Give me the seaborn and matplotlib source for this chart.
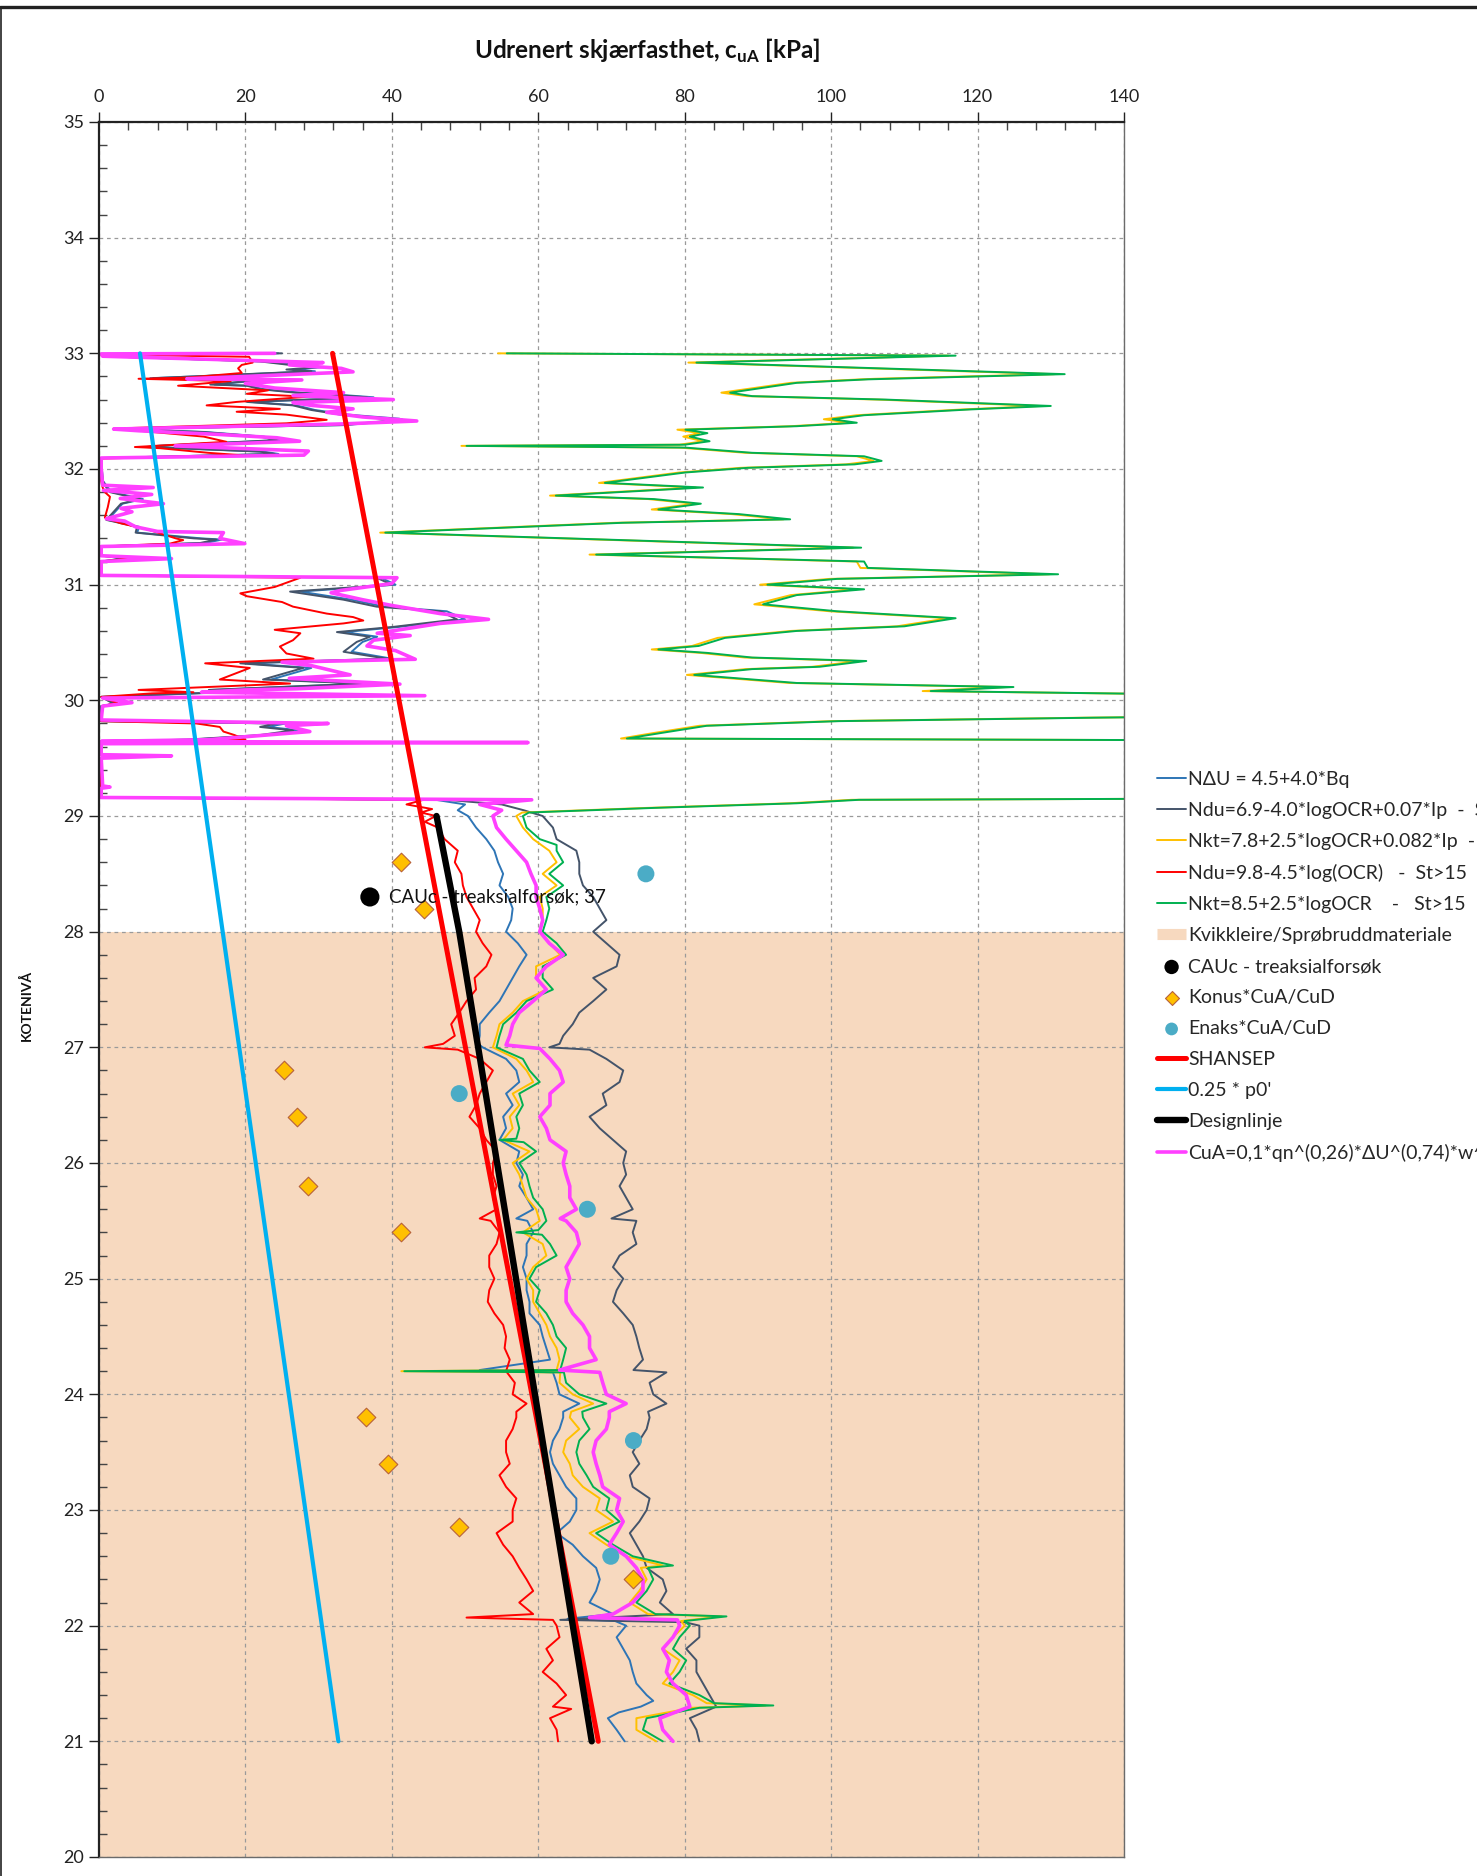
import matplotlib
matplotlib.use("Agg")
import matplotlib.pyplot as plt
from matplotlib.lines import Line2D
from matplotlib.ticker import MultipleLocator
import seaborn as sns
import pandas as pd

# ---------------------------------------------------------------------------
# CPT-derived undrained shear strength profiles, (kote [m], cuA [kPa])
# ---------------------------------------------------------------------------
ndu_bq = [  # NΔU = 4.5+4.0*Bq
    (33.0, 24.5), (32.995, 0.3), (32.975, 0.5), (32.93, 22.5), (32.9, 27.0), (32.88, 30.5),
    (32.86, 26.5), (32.845, 29.5), (32.82, 20.5), (32.785, 7.0), (32.77, 22.5), (32.73, 15.8),
    (32.72, 20.5), (32.69, 22.5), (32.66, 27.5), (32.65, 31.0), (32.62, 37.5), (32.58, 20.8),
    (32.55, 27.0), (32.51, 29.5), (32.47, 34.0), (32.435, 41.0), (32.425, 41.5), (32.38, 33.8),
    (32.345, 2.0), (32.34, 5.6), (32.32, 14.5), (32.28, 22.5), (32.25, 24.8), (32.2, 8.2),
    (32.19, 6.8), (32.15, 22.5), (32.13, 24.5), (32.095, 0.3), (31.9, 0.5), (31.84, 1.2),
    (31.8, 1.8), (31.74, 6.0), (31.7, 3.2), (31.63, 2.2), (31.56, 1.2), (31.5, 5.5), (31.45, 5.2),
    (31.4, 14.0), (31.39, 16.8), (31.36, 14.5), (31.33, 0.3), (31.25, 0.3), (31.23, 3.8),
    (31.2, 0.3), (31.08, 0.3), (31.06, 38.5), (31.0, 40.5), (30.94, 27.5), (30.87, 34.5),
    (30.81, 39.0), (30.77, 47.5), (30.7, 50.0), (30.635, 41.0), (30.59, 33.5), (30.55, 38.0),
    (30.505, 36.0), (30.42, 34.5), (30.36, 40.0), (30.32, 20.0), (30.28, 29.0), (30.18, 23.5),
    (30.145, 36.5), (30.09, 15.5), (30.07, 17.5), (30.03, 0.3), (29.97, 2.2), (29.95, 0.3),
    (29.82, 0.3), (29.8, 25.5), (29.77, 23.0), (29.74, 27.5), (29.7, 23.0), (29.66, 12.5),
    (29.645, 0.3), (29.635, 41.0), (29.625, 0.3), (29.53, 0.3), (29.52, 5.5), (29.5, 0.3),
    (29.16, 0.3), (29.14, 46.0), (29.1, 50.0), (29.05, 49.0),
    (29.0, 50.4), (28.9, 51.5), (28.8, 52.9), (28.7, 54.0), (28.6, 54.5), (28.5, 55.2),
    (28.4, 54.7), (28.3, 55.9), (28.2, 56.5), (28.1, 56.3), (28.0, 55.6), (27.9, 57.2),
    (27.8, 58.4), (27.7, 57.4), (27.6, 56.5), (27.5, 55.6), (27.4, 54.7), (27.3, 53.3),
    (27.2, 52.0), (27.1, 52.0), (27.03, 51.8), (27.0, 52.4), (26.9, 55.6), (26.8, 57.0),
    (26.7, 57.4), (26.6, 55.6), (26.5, 56.5), (26.4, 55.2), (26.3, 55.6), (26.2, 54.7),
    (26.1, 57.4), (26.0, 57.0), (25.9, 57.9), (25.8, 57.4), (25.7, 58.4), (25.6, 59.3),
    (25.52, 57.0), (25.5, 58.5), (25.4, 59.3), (25.3, 58.4), (25.2, 58.4), (25.1, 57.9),
    (25.0, 58.4), (24.9, 58.4), (24.8, 58.8), (24.7, 58.8), (24.6, 60.2), (24.5, 60.6),
    (24.4, 61.1), (24.3, 61.6), (24.21, 52.0), (24.19, 62.0), (24.1, 62.5), (24.0, 62.9),
    (23.92, 65.6), (23.85, 63.4), (23.8, 63.4), (23.7, 62.9), (23.6, 62.0), (23.5, 61.6),
    (23.4, 62.0), (23.3, 62.9), (23.2, 63.8), (23.1, 65.2), (23.0, 65.2), (22.9, 64.3),
    (22.8, 62.5), (22.7, 64.7), (22.6, 66.1), (22.5, 67.9), (22.4, 68.4), (22.3, 67.9),
    (22.2, 67.0), (22.1, 70.2), (22.06, 64.0), (22.04, 70.5), (22.0, 72.0), (21.9, 70.7),
    (21.8, 71.6), (21.7, 72.5), (21.6, 72.9), (21.5, 73.4), (21.4, 74.8), (21.35, 75.7),
    (21.3, 74.0), (21.25, 71.0), (21.2, 69.5), (21.1, 70.7), (21.0, 71.8),
]

ndu_ocr_ip = [  # Ndu=6.9-4.0*logOCR+0.07*Ip - St<15
    (33.0, 25.0), (32.995, 0.3), (32.975, 0.5), (32.93, 22.0), (32.9, 26.0), (32.88, 29.7),
    (32.86, 25.6), (32.845, 29.0), (32.82, 20.0), (32.785, 7.4), (32.77, 22.0), (32.73, 15.2),
    (32.72, 20.2), (32.69, 22.0), (32.66, 26.8), (32.65, 30.2), (32.62, 36.6), (32.58, 20.2),
    (32.55, 26.5), (32.51, 29.0), (32.47, 33.0), (32.435, 40.0), (32.425, 40.9), (32.38, 33.4),
    (32.345, 2.0), (32.34, 5.6), (32.32, 14.0), (32.28, 22.0), (32.25, 24.3), (32.2, 8.0),
    (32.19, 6.5), (32.15, 22.0), (32.13, 24.0), (32.095, 0.3), (31.9, 0.5), (31.84, 1.0),
    (31.8, 1.5), (31.74, 5.6), (31.7, 3.0), (31.63, 2.0), (31.56, 1.0), (31.5, 5.2), (31.45, 5.0),
    (31.4, 13.0), (31.39, 16.0), (31.36, 13.8), (31.33, 0.3), (31.25, 0.3), (31.23, 3.5),
    (31.2, 0.3), (31.08, 0.3), (31.06, 37.9), (31.0, 40.0), (30.94, 26.1), (30.87, 33.4),
    (30.81, 37.9), (30.77, 46.6), (30.7, 48.9), (30.635, 40.2), (30.59, 32.5), (30.55, 37.0),
    (30.505, 35.2), (30.42, 33.4), (30.36, 39.3), (30.32, 19.3), (30.28, 27.9), (30.18, 22.4),
    (30.145, 36.1), (30.09, 15.0), (30.07, 17.0), (30.03, 0.3), (29.97, 2.0), (29.95, 0.3),
    (29.82, 0.3), (29.8, 24.3), (29.77, 22.0), (29.74, 26.5), (29.7, 22.0), (29.66, 12.0),
    (29.645, 0.3), (29.635, 40.2), (29.625, 0.3), (29.53, 0.3), (29.52, 5.0), (29.5, 0.3),
    (29.16, 0.3), (29.14, 47.5), (29.1, 55.0), (29.05, 58.0),
    (29.0, 60.6), (28.9, 62.0), (28.8, 62.5), (28.7, 65.2), (28.6, 65.6), (28.5, 65.6),
    (28.4, 66.1), (28.3, 67.5), (28.2, 68.4), (28.1, 69.3), (28.0, 67.5), (27.9, 69.3),
    (27.8, 71.1), (27.7, 70.7), (27.6, 67.5), (27.5, 69.3), (27.4, 67.5), (27.3, 65.6),
    (27.2, 64.7), (27.1, 63.4), (27.03, 62.9), (27.0, 61.5), (26.98, 67.0), (26.9, 69.3),
    (26.8, 71.6), (26.7, 71.1), (26.6, 68.8), (26.5, 69.3), (26.4, 67.0), (26.3, 68.4),
    (26.2, 70.2), (26.1, 72.0), (26.0, 71.6), (25.9, 72.0), (25.8, 71.1), (25.7, 72.0),
    (25.6, 72.9), (25.52, 70.0), (25.5, 73.4), (25.4, 72.9), (25.3, 73.4), (25.2, 71.1),
    (25.1, 70.2), (25.0, 71.6), (24.9, 70.7), (24.8, 70.2), (24.7, 71.6), (24.6, 72.9),
    (24.5, 73.4), (24.4, 73.8), (24.3, 74.3), (24.21, 73.0), (24.19, 77.5), (24.1, 75.2),
    (24.0, 75.7), (23.92, 77.5), (23.85, 75.0), (23.8, 75.2), (23.7, 74.8), (23.6, 73.8),
    (23.5, 72.9), (23.4, 73.8), (23.3, 72.5), (23.2, 72.9), (23.1, 75.2), (23.0, 74.8),
    (22.9, 73.8), (22.8, 72.5), (22.7, 73.4), (22.6, 74.3), (22.5, 74.8), (22.4, 77.0),
    (22.3, 77.5), (22.2, 76.6), (22.1, 78.4), (22.05, 63.0), (22.03, 80.0), (22.0, 82.0),
    (21.9, 82.0), (21.8, 80.2), (21.7, 81.6), (21.6, 81.6), (21.5, 82.5), (21.4, 83.4),
    (21.3, 84.3), (21.2, 80.7), (21.1, 81.6), (21.0, 82.0),
]

nkt_ocr_ip = [  # Nkt=7.8+2.5*logOCR+0.082*Ip - St<15
    (33.0, 54.5), (32.98, 116.0), (32.92, 80.5), (32.82, 130.5), (32.78, 106.0), (32.775, 104.0),
    (32.745, 94.5), (32.66, 85.0), (32.63, 88.5), (32.6, 106.5), (32.545, 128.5), (32.515, 118.0),
    (32.465, 103.5), (32.43, 99.0), (32.4, 102.5), (32.37, 94.5), (32.34, 79.0), (32.31, 82.0),
    (32.28, 79.8), (32.24, 82.5), (32.21, 79.3), (32.2, 49.5), (32.185, 79.3), (32.14, 88.3),
    (32.11, 103.5), (32.07, 105.8), (32.04, 102.0), (32.01, 87.6), (31.97, 79.3), (31.88, 68.3),
    (31.84, 81.5), (31.77, 61.6), (31.74, 75.0), (31.7, 81.3), (31.65, 75.5), (31.61, 86.4),
    (31.565, 93.5), (31.535, 70.5), (31.45, 38.4), (31.32, 103.0), (31.26, 67.0), (31.2, 103.5),
    (31.145, 104.0), (31.09, 129.8), (31.05, 99.8), (31.0, 90.3), (30.96, 103.5), (30.91, 94.5),
    (30.83, 89.5), (30.77, 99.8), (30.71, 116.0), (30.64, 109.0), (30.6, 94.5), (30.54, 84.5),
    (30.47, 81.0), (30.44, 75.5), (30.41, 82.2), (30.37, 88.2), (30.34, 103.8), (30.29, 97.4),
    (30.27, 88.3), (30.22, 80.3), (30.15, 94.3), (30.115, 123.8), (30.08, 112.5), (30.05, 150.0),
    (29.95, 170.0), (29.86, 150.0), (29.85, 134.5), (29.82, 100.0), (29.78, 82.0), (29.72, 76.0),
    (29.67, 71.3), (29.655, 150.0), (29.4, 170.0), (29.15, 150.0), (29.14, 102.8), (29.11, 94.3),
    (29.07, 74.8), (29.03, 57.8),
    (29.0, 57.0), (28.9, 57.9), (28.8, 59.3), (28.7, 61.5), (28.6, 62.5), (28.5, 60.6),
    (28.4, 62.5), (28.3, 60.2), (28.2, 60.6), (28.1, 60.6), (28.0, 60.2), (27.9, 61.5),
    (27.8, 63.0), (27.7, 59.7), (27.6, 59.7), (27.5, 61.1), (27.4, 57.9), (27.3, 56.5),
    (27.2, 54.7), (27.1, 54.3), (27.0, 53.8), (26.9, 57.0), (26.8, 58.4), (26.7, 59.3),
    (26.6, 56.5), (26.5, 57.4), (26.4, 56.1), (26.3, 56.5), (26.2, 55.2), (26.1, 58.8),
    (26.0, 56.5), (25.9, 57.4), (25.8, 57.9), (25.7, 58.4), (25.6, 59.7), (25.5, 60.2),
    (25.4, 57.9), (25.3, 60.6), (25.2, 61.1), (25.1, 59.3), (25.0, 58.4), (24.9, 59.3),
    (24.8, 59.3), (24.7, 60.2), (24.6, 61.1), (24.5, 61.6), (24.4, 62.5), (24.3, 62.9),
    (24.21, 62.5), (24.2, 41.3), (24.19, 63.0), (24.1, 62.9), (24.0, 64.7), (23.92, 67.5),
    (23.85, 64.5), (23.8, 64.3), (23.7, 65.6), (23.6, 63.8), (23.5, 63.4), (23.4, 64.3),
    (23.3, 64.7), (23.2, 66.1), (23.1, 68.4), (23.0, 67.9), (22.9, 70.2), (22.8, 67.0),
    (22.7, 69.3), (22.6, 72.0), (22.52, 77.0), (22.5, 74.0), (22.4, 74.8), (22.3, 73.8),
    (22.2, 72.5), (22.1, 75.0), (22.08, 85.0), (22.04, 79.5), (22.0, 80.0), (21.9, 78.4),
    (21.8, 77.0), (21.7, 79.3), (21.6, 78.4), (21.5, 77.0), (21.4, 81.1), (21.33, 83.0),
    (21.31, 91.0), (21.29, 81.0), (21.2, 73.4), (21.1, 73.4), (21.0, 76.1),
]

ndu_ocr = [  # Ndu=9.8-4.5*log(OCR) - St>15
    (33.0, 20.0), (32.99, 0.3), (32.97, 20.5), (32.92, 21.0), (32.9, 19.5), (32.87, 19.0),
    (32.83, 19.5), (32.79, 12.0), (32.78, 5.4), (32.76, 18.0), (32.72, 10.8), (32.68, 23.1),
    (32.65, 20.2), (32.625, 28.6), (32.58, 18.8), (32.55, 14.7), (32.52, 24.7), (32.495, 18.8),
    (32.47, 25.6), (32.425, 31.1), (32.395, 25.6), (32.35, 2.0), (32.33, 5.6), (32.28, 14.3),
    (32.235, 17.4), (32.19, 4.9), (32.18, 8.3), (32.14, 14.9), (32.12, 19.3), (32.09, 0.3),
    (31.9, 0.3), (31.84, 0.5), (31.8, 0.8), (31.76, 1.5), (31.67, 1.2), (31.58, 0.8),
    (31.53, 3.0), (31.48, 6.5), (31.4, 10.5), (31.385, 11.5), (31.355, 9.7), (31.33, 0.3),
    (31.25, 0.3), (31.23, 4.7), (31.2, 0.3), (31.08, 0.3), (31.06, 27.5), (30.98, 24.0),
    (30.925, 19.3), (30.9, 20.2), (30.85, 25.0), (30.81, 26.5), (30.75, 31.1), (30.72, 34.7),
    (30.69, 36.1), (30.665, 33.4), (30.61, 24.0), (30.58, 27.5), (30.52, 26.5), (30.465, 24.7),
    (30.405, 25.6), (30.36, 29.3), (30.32, 14.5), (30.28, 20.6), (30.18, 16.5), (30.145, 26.1),
    (30.09, 5.4), (30.07, 12.9), (30.06, 7.2), (30.03, 0.3), (29.98, 2.5), (29.95, 0.5),
    (29.82, 0.3), (29.8, 13.3), (29.77, 16.5), (29.73, 17.0), (29.7, 18.5), (29.66, 20.0),
    (29.645, 0.3), (29.635, 31.1), (29.625, 0.3), (29.53, 0.3), (29.52, 1.0), (29.5, 0.3),
    (29.16, 0.3), (29.14, 44.3), (29.1, 42.0), (29.06, 45.5), (29.03, 44.0),
    (29.0, 46.0), (28.95, 44.5), (28.9, 46.3), (28.8, 47.2), (28.7, 49.0), (28.6, 48.6),
    (28.5, 49.5), (28.4, 49.7), (28.3, 50.2), (28.2, 51.1), (28.1, 52.0), (28.0, 51.5),
    (27.9, 52.4), (27.8, 53.6), (27.7, 52.9), (27.6, 51.3), (27.5, 51.5), (27.4, 50.2),
    (27.3, 49.2), (27.2, 48.1), (27.1, 48.6), (27.03, 47.0), (27.0, 44.5), (26.98, 49.0),
    (26.9, 52.0), (26.8, 53.8), (26.7, 52.9), (26.6, 52.0), (26.5, 51.5), (26.4, 50.6),
    (26.3, 52.0), (26.2, 52.9), (26.1, 54.3), (26.0, 53.8), (25.9, 53.8), (25.8, 54.3),
    (25.7, 53.8), (25.6, 54.3), (25.52, 52.0), (25.5, 53.5), (25.4, 54.7), (25.3, 54.3),
    (25.2, 53.3), (25.1, 53.3), (25.0, 54.0), (24.9, 53.3), (24.8, 53.1), (24.7, 54.0),
    (24.6, 55.2), (24.5, 55.6), (24.4, 55.4), (24.3, 56.1), (24.2, 55.6), (24.1, 56.8),
    (24.0, 56.5), (23.92, 58.4), (23.85, 57.0), (23.8, 57.0), (23.7, 56.5), (23.6, 55.6),
    (23.5, 55.6), (23.4, 56.1), (23.3, 54.7), (23.2, 55.6), (23.1, 57.0), (23.0, 56.5),
    (22.9, 56.5), (22.8, 54.3), (22.7, 55.2), (22.6, 56.5), (22.5, 57.4), (22.4, 58.4),
    (22.3, 59.3), (22.2, 57.4), (22.1, 59.3), (22.07, 50.2), (22.05, 62.0), (22.0, 62.5),
    (21.9, 62.9), (21.8, 61.1), (21.7, 62.0), (21.6, 60.6), (21.5, 62.5), (21.4, 63.8),
    (21.3, 62.0), (21.28, 64.5), (21.2, 61.6), (21.1, 62.5), (21.0, 62.7),
]

nkt_ocr = [  # Nkt=8.5+2.5*logOCR - St>15
    (33.0, 55.7), (32.98, 117.0), (32.92, 81.6), (32.82, 131.9), (32.78, 107.5), (32.775, 105.0),
    (32.745, 95.3), (32.66, 86.2), (32.63, 89.2), (32.6, 107.5), (32.545, 130.0), (32.515, 119.0),
    (32.465, 104.5), (32.43, 100.2), (32.4, 103.5), (32.37, 95.3), (32.34, 80.1), (32.31, 83.1),
    (32.28, 80.7), (32.24, 83.4), (32.21, 80.0), (32.2, 50.2), (32.185, 80.1), (32.14, 89.2),
    (32.11, 104.5), (32.07, 106.9), (32.04, 103.2), (32.01, 88.6), (31.97, 80.1), (31.88, 69.1),
    (31.84, 82.5), (31.77, 62.4), (31.74, 75.8), (31.7, 82.2), (31.65, 76.4), (31.61, 87.4),
    (31.565, 94.4), (31.535, 71.5), (31.45, 39.1), (31.32, 104.1), (31.26, 67.9), (31.2, 104.5),
    (31.145, 105.0), (31.09, 131.0), (31.05, 100.8), (31.0, 91.3), (30.96, 104.5), (30.91, 95.3),
    (30.83, 90.7), (30.77, 100.8), (30.71, 117.0), (30.64, 110.0), (30.6, 95.3), (30.54, 85.5),
    (30.47, 81.9), (30.44, 76.4), (30.41, 83.1), (30.37, 89.2), (30.34, 104.8), (30.29, 98.4),
    (30.27, 89.2), (30.22, 81.3), (30.15, 95.3), (30.115, 124.9), (30.08, 113.6), (30.05, 150.0),
    (29.95, 170.0), (29.86, 150.0), (29.85, 136.0), (29.82, 101.0), (29.78, 83.0), (29.72, 77.0),
    (29.67, 72.1), (29.655, 150.0), (29.4, 170.0), (29.15, 150.0), (29.14, 103.8), (29.11, 95.3),
    (29.07, 75.8), (29.03, 58.7),
    (29.0, 57.9), (28.9, 58.4), (28.8, 60.2), (28.75, 62.5), (28.7, 62.5), (28.6, 63.4),
    (28.5, 61.5), (28.4, 63.4), (28.3, 61.1), (28.2, 61.5), (28.1, 61.1), (28.0, 60.6),
    (27.9, 62.5), (27.8, 63.8), (27.7, 60.6), (27.6, 60.6), (27.5, 62.0), (27.4, 58.4),
    (27.3, 57.0), (27.2, 55.2), (27.1, 54.7), (27.0, 54.3), (26.9, 57.9), (26.8, 58.8),
    (26.7, 60.2), (26.6, 57.4), (26.5, 57.9), (26.4, 57.0), (26.3, 57.4), (26.21, 57.0),
    (26.2, 54.7), (26.18, 58.0), (26.1, 59.7), (26.0, 57.4), (25.9, 58.4), (25.8, 58.8),
    (25.7, 59.3), (25.6, 60.6), (25.5, 61.1), (25.42, 60.0), (25.4, 57.0), (25.38, 60.5),
    (25.3, 61.6), (25.2, 62.5), (25.1, 59.7), (25.0, 58.8), (24.9, 60.2), (24.8, 59.7),
    (24.7, 61.1), (24.6, 62.0), (24.5, 62.5), (24.4, 63.8), (24.3, 63.4), (24.21, 63.0),
    (24.2, 41.7), (24.19, 63.5), (24.1, 63.8), (24.0, 65.6), (23.92, 69.3), (23.85, 66.0),
    (23.8, 66.1), (23.7, 67.0), (23.6, 65.6), (23.5, 65.2), (23.4, 65.6), (23.3, 66.6),
    (23.2, 67.5), (23.1, 69.7), (23.0, 69.3), (22.9, 71.1), (22.8, 67.9), (22.7, 70.2),
    (22.6, 72.9), (22.52, 78.4), (22.5, 75.0), (22.4, 75.7), (22.3, 74.8), (22.2, 73.4),
    (22.1, 76.0), (22.08, 85.7), (22.04, 80.0), (22.0, 80.7), (21.9, 79.3), (21.8, 78.4),
    (21.7, 80.2), (21.6, 79.3), (21.5, 77.9), (21.4, 82.0), (21.33, 84.0), (21.31, 92.1),
    (21.29, 82.0), (21.2, 74.8), (21.1, 74.3), (21.0, 77.0),
]

cua_karlsrud = [  # CuA=0,1*qn^(0,26)*ΔU^(0,74)*w^(0,2)
    (33.0, 24.0), (32.995, 0.3), (32.975, 0.5), (32.92, 30.6), (32.9, 26.0), (32.87, 33.1),
    (32.84, 34.7), (32.8, 20.0), (32.78, 12.0), (32.77, 27.7), (32.74, 20.0), (32.7, 24.0),
    (32.66, 33.4), (32.635, 26.5), (32.6, 40.2), (32.575, 26.5), (32.55, 29.0), (32.52, 34.7),
    (32.49, 31.1), (32.45, 36.0), (32.415, 43.4), (32.39, 33.4), (32.345, 2.0), (32.33, 5.6),
    (32.3, 16.0), (32.27, 24.3), (32.24, 27.4), (32.2, 10.4), (32.155, 28.6), (32.12, 28.0),
    (32.095, 0.3), (32.0, 0.3), (31.86, 0.5), (31.84, 7.4), (31.815, 0.6), (31.78, 7.2),
    (31.745, 2.9), (31.7, 8.8), (31.66, 3.0), (31.63, 4.5), (31.57, 1.0), (31.55, 3.5),
    (31.5, 5.0), (31.46, 8.0), (31.45, 17.0), (31.4, 16.5), (31.355, 19.9), (31.33, 0.3),
    (31.25, 0.3), (31.225, 9.9), (31.2, 0.3), (31.08, 0.3), (31.06, 40.7), (31.01, 40.0),
    (30.95, 33.0), (30.93, 31.7), (30.87, 36.0), (30.82, 40.0), (30.75, 46.6), (30.7, 53.2),
    (30.665, 46.6), (30.62, 42.0), (30.58, 38.0), (30.56, 42.5), (30.52, 37.5), (30.47, 36.6),
    (30.43, 40.5), (30.355, 43.2), (30.33, 25.0), (30.3, 29.0), (30.22, 34.3), (30.19, 26.0),
    (30.14, 41.1), (30.1, 27.0), (30.09, 20.0), (30.07, 14.0), (30.04, 44.5), (30.02, 0.5),
    (29.98, 4.5), (29.95, 0.5), (29.83, 0.3), (29.8, 31.3), (29.78, 25.6), (29.73, 28.8),
    (29.66, 15.0), (29.645, 0.3), (29.635, 58.6), (29.625, 0.3), (29.53, 0.3), (29.52, 9.9),
    (29.5, 0.3), (29.26, 0.5), (29.25, 1.5), (29.24, 0.3), (29.16, 0.3), (29.14, 59.1),
    (29.1, 52.0), (29.05, 55.0),
    (29.0, 53.8), (28.9, 54.3), (28.8, 55.6), (28.7, 57.0), (28.6, 58.4), (28.5, 59.0),
    (28.4, 59.7), (28.3, 59.7), (28.2, 60.2), (28.1, 60.6), (28.0, 60.2), (27.9, 61.5),
    (27.8, 63.4), (27.7, 61.1), (27.6, 59.7), (27.5, 61.1), (27.4, 59.3), (27.3, 57.4),
    (27.2, 56.5), (27.1, 56.1), (27.02, 55.6), (26.99, 60.2), (26.9, 61.6), (26.8, 62.9),
    (26.7, 63.4), (26.6, 61.6), (26.5, 61.6), (26.4, 60.2), (26.3, 61.1), (26.2, 61.6),
    (26.1, 63.8), (26.0, 63.4), (25.9, 63.8), (25.8, 64.3), (25.7, 64.3), (25.6, 65.2),
    (25.52, 63.0), (25.5, 63.8), (25.4, 65.2), (25.3, 65.6), (25.2, 64.7), (25.1, 63.8),
    (25.0, 64.3), (24.9, 63.8), (24.8, 63.8), (24.7, 64.7), (24.6, 66.1), (24.5, 67.0),
    (24.4, 67.0), (24.3, 67.9), (24.21, 62.9), (24.19, 68.4), (24.1, 68.8), (24.0, 69.3),
    (23.92, 72.0), (23.85, 69.7), (23.8, 69.7), (23.7, 69.3), (23.6, 67.9), (23.5, 67.5),
    (23.4, 67.9), (23.3, 68.4), (23.2, 68.8), (23.1, 71.1), (23.0, 70.7), (22.9, 71.6),
    (22.8, 70.7), (22.7, 69.7), (22.6, 72.0), (22.5, 73.4), (22.4, 74.3), (22.3, 74.3),
    (22.2, 72.9), (22.1, 70.2), (22.07, 67.0), (22.05, 79.0), (22.0, 79.3), (21.9, 78.4),
    (21.8, 77.0), (21.7, 77.9), (21.6, 77.5), (21.5, 78.4), (21.4, 80.2), (21.3, 80.7),
    (21.2, 76.6), (21.1, 77.0), (21.0, 78.4),
]

# Reference lines (kote, cuA)
shansep = [(33.0, 31.9), (21.0, 68.2)]
p0_quarter = [(33.0, 5.6), (21.0, 32.7)]
designlinje = [(29.0, 46.1), (28.0, 49.2), (21.0, 67.3)]

# Laboratory results (kote, cuA)
cauc_kote, cauc_cu = [28.3], [37.0]
konus_kote = [28.6, 28.2, 26.8, 26.4, 25.8, 25.4, 23.8, 23.4, 22.85, 22.4]
konus_cu = [41.3, 44.4, 25.3, 27.0, 28.6, 41.3, 36.4, 39.5, 49.2, 73.0]
enaks_kote = [28.5, 26.6, 25.6, 23.6, 22.6]
enaks_cu = [74.7, 49.2, 66.7, 73.0, 69.9]

# Quick-clay layer
kvikk_top, kvikk_bottom = 28.0, 20.0
KVIKK_COLOR = "#F7D9BF"

# ---------------------------------------------------------------------------
W, H, DPI = 1477, 1876, 100
sns.set_style("white")
plt.rcParams["font.family"] = ["Lato", "DejaVu Sans"]
plt.rcParams["mathtext.fontset"] = "custom"
plt.rcParams["mathtext.rm"] = "Lato"
plt.rcParams["mathtext.bf"] = "Lato:bold"

fig = plt.figure(figsize=(W / DPI, H / DPI), dpi=DPI)
ax = fig.add_axes([99 / W, 1 - 1857 / H, 1025 / W, 1735 / H])


def frame(points):
    return pd.DataFrame(points, columns=["kote", "cu"])


ax.axhspan(kvikk_bottom, kvikk_top, color=KVIKK_COLOR, lw=0, zorder=0.2)

curves = [
    (ndu_bq, "#2E75B6", 1.4, "NΔU = 4.5+4.0*Bq"),
    (ndu_ocr_ip, "#44546A", 1.4, "Ndu=6.9-4.0*logOCR+0.07*Ip  -  St<15"),
    (nkt_ocr_ip, "#FFC000", 1.4, "Nkt=7.8+2.5*logOCR+0.082*Ip  -  St<15"),
    (ndu_ocr, "#FF0000", 1.4, "Ndu=9.8-4.5*log(OCR)   -  St>15"),
    (nkt_ocr, "#00B050", 1.4, "Nkt=8.5+2.5*logOCR    -   St>15"),
    (cua_karlsrud, "#FF40FF", 2.6, "CuA=0,1*qn^(0,26)*ΔU^(0,74)*w^(0,2)"),
]
for pts, col, lw, lab in curves:
    d = frame(pts)
    sns.lineplot(data=d, x="cu", y="kote", sort=False, estimator=None, color=col,
                 linewidth=lw, ax=ax, label=lab, zorder=2)

for pts, col, lw, lab in [(shansep, "#FF0000", 3.6, "SHANSEP"),
                          (p0_quarter, "#00B0F0", 3.0, "0.25 * p0'"),
                          (designlinje, "#000000", 4.6, "Designlinje")]:
    d = frame(pts)
    sns.lineplot(data=d, x="cu", y="kote", sort=False, estimator=None, color=col,
                 linewidth=lw, ax=ax, label=lab, zorder=3)

sns.scatterplot(x=cauc_cu, y=cauc_kote, ax=ax, color="black", s=190, edgecolor="none",
                label="CAUc - treaksialforsøk", zorder=5)
sns.scatterplot(x=konus_cu, y=konus_kote, ax=ax, marker="D", color="#FFC000", s=90,
                edgecolor="#B8623A", linewidth=0.8, label="Konus*CuA/CuD", zorder=5)
sns.scatterplot(x=enaks_cu, y=enaks_kote, ax=ax, color="#4BACC6", s=150, edgecolor="none",
                label="Enaks*CuA/CuD", zorder=5)

ax.annotate(f"CAUc - treaksialforsøk; {cauc_cu[0]:.0f}", (cauc_cu[0], cauc_kote[0]),
            xytext=(14, 0), textcoords="offset points", va="center", ha="left",
            fontsize=13.5, color="#111111", zorder=6)

# Axes styling
ax.set_xlim(0, 140)
ax.set_ylim(20, 35)
ax.xaxis.set_major_locator(MultipleLocator(20))
ax.xaxis.set_minor_locator(MultipleLocator(4))
ax.yaxis.set_major_locator(MultipleLocator(1))
ax.yaxis.set_minor_locator(MultipleLocator(0.2))
ax.xaxis.tick_top()
ax.tick_params(axis="x", which="major", direction="out", length=7, width=1, pad=5,
               labelsize=13, top=True, bottom=False, colors="#222222")
ax.tick_params(axis="x", which="minor", direction="in", length=6, width=1,
               top=True, bottom=False, colors="#444444")
ax.tick_params(axis="y", which="major", direction="out", length=7, width=1, pad=4,
               labelsize=13, left=True, right=False, colors="#222222")
ax.tick_params(axis="y", which="minor", direction="in", length=6, width=1,
               left=True, right=False, colors="#444444")
ax.set_xlabel("")
ax.set_ylabel("")
ax.set_axisbelow(True)
ax.grid(True, which="major", color="#9a9a9a", linestyle=(0, (3, 3)), linewidth=0.9)
for side, sp in ax.spines.items():
    sp.set_visible(True)
    sp.set_color("#222222" if side in ("left", "top") else "#6b6b6b")
    sp.set_linewidth(1.6 if side in ("left", "top") else 1.0)

fig.text(647 / W, 1 - 51 / H, r"Udrenert skjærfasthet, c$_{\mathbf{uA}}$ [kPa]",
         ha="center", va="center", fontsize=17.5, fontweight="bold", color="#111111")
fig.text(26 / W, 1 - 1005 / H, "KOTENIVÅ", rotation=90, ha="center", va="center",
         fontsize=10, fontweight="bold", color="#111111")

# Legend in the order of the data series
handles, labels = ax.get_legend_handles_labels()
lookup = dict(zip(labels, handles))
lookup["Kvikkleire/Sprøbruddmateriale"] = Line2D([], [], color=KVIKK_COLOR, lw=8,
                                                  solid_capstyle="butt")
order = [
    "NΔU = 4.5+4.0*Bq",
    "Ndu=6.9-4.0*logOCR+0.07*Ip  -  St<15",
    "Nkt=7.8+2.5*logOCR+0.082*Ip  -  St<15",
    "Ndu=9.8-4.5*log(OCR)   -  St>15",
    "Nkt=8.5+2.5*logOCR    -   St>15",
    "Kvikkleire/Sprøbruddmateriale",
    "CAUc - treaksialforsøk",
    "Konus*CuA/CuD",
    "Enaks*CuA/CuD",
    "SHANSEP",
    "0.25 * p0'",
    "Designlinje",
    "CuA=0,1*qn^(0,26)*ΔU^(0,74)*w^(0,2)",
]
if ax.get_legend() is not None:
    ax.get_legend().remove()
fig.legend([lookup[k] for k in order], order, loc="upper left",
           bbox_to_anchor=(1157 / W, 1 - 771 / H), frameon=False, fontsize=14,
           handlelength=1.5, handletextpad=0.1, labelspacing=0.72, borderaxespad=0,
           borderpad=0, markerscale=0.75)

# Outer frame lines
fig.add_artist(Line2D([0, 1], [1 - 7 / H, 1 - 7 / H], transform=fig.transFigure,
                      color="#222222", lw=2.4))
fig.add_artist(Line2D([1 / W, 1 / W], [0, 1 - 7 / H], transform=fig.transFigure,
                      color="#222222", lw=1.2))

fig.savefig("out.png", dpi=DPI)
